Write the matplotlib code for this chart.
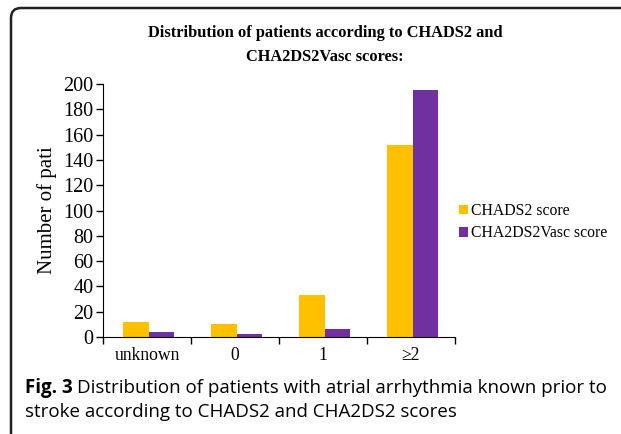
import matplotlib
matplotlib.use("Agg")
import matplotlib.pyplot as plt
from matplotlib.patches import FancyBboxPatch
import numpy as np

categories = ["unknown", "0", "1", "\u22652"]
chads2 = [12, 10, 33, 152]
cha2ds2vasc = [4, 2, 6, 195]
series_names = ["CHADS2 score", "CHA2DS2Vasc score"]
colors = ["#FFC000", "#7030A0"]

W, H = 621, 434
fig = plt.figure(figsize=(W/100, H/100), dpi=100)
serif = "Liberation Serif"

ax = fig.add_axes([103/W, 1-337/H, (455-103)/W, (337-84)/H])
x = np.arange(len(categories))
bw = 0.29
b1 = ax.bar(x - bw/2 + 0.02, chads2, bw, color=colors[0], label=series_names[0])
b2 = ax.bar(x + bw/2 + 0.02, cha2ds2vasc, bw, color=colors[1], label=series_names[1])
ax.set_xlim(-0.5, 3.5)
ax.set_ylim(0, 200)
ax.set_yticks(range(0, 201, 20))
ax.set_xticks(np.arange(-0.5, 4, 1))
ax.set_xticklabels([])
ax.set_xticks(x, minor=True)
ax.set_xticklabels(categories, minor=True, fontfamily=serif, fontsize=12.7)
ax.tick_params(axis="x", which="minor", length=0, pad=7)
ax.tick_params(axis="x", which="major", length=5, direction="out", width=1)
ax.tick_params(axis="y", length=5, direction="out", width=1, pad=2)
for lab in ax.get_yticklabels():
    lab.set_fontfamily(serif)
    lab.set_fontsize(14.5)
for s in ["top", "right"]:
    ax.spines[s].set_visible(False)
ax.set_ylabel("Number of pati", fontfamily=serif, fontsize=15, labelpad=4)

leg = fig.legend(handles=[b1, b2], labels=series_names, loc="upper left",
                 bbox_to_anchor=(445/W, 1-189/H), frameon=False,
                 prop={"family": serif, "size": 11.3}, handlelength=0.55,
                 handleheight=0.55, handletextpad=0.2, labelspacing=0.4)

fig.text(325/W, 1-33/H, "Distribution of patients according to CHADS2 and",
         ha="center", va="center", fontfamily=serif, fontweight="bold", fontsize=11.8)
fig.text(325/W, 1-57/H, "CHA2DS2Vasc scores:",
         ha="center", va="center", fontfamily=serif, fontweight="bold", fontsize=11.8)

cap_font = "Open Sans"
cap_size = 13.5
t1 = fig.text(25/W, 1-388/H, "Fig. 3", ha="left", va="center", fontfamily=cap_font,
              fontweight="bold", fontsize=cap_size)
fig.canvas.draw()
bb = t1.get_window_extent()
fig.text((bb.x1 + 4)/W, 1-388/H, "Distribution of patients with atrial arrhythmia known prior to",
         ha="left", va="center", fontfamily=cap_font, fontsize=cap_size)
fig.text(25/W, 1-412/H, "stroke according to CHADS2 and CHA2DS2 scores",
         ha="left", va="center", fontfamily=cap_font, fontsize=cap_size)

box = FancyBboxPatch((11, -30), 700, 456, boxstyle="round,pad=0,rounding_size=10",
                     transform=None, facecolor="none", edgecolor="#222222", linewidth=1.8)
fig.patches.append(box)

fig.savefig("out.png", dpi=100)
